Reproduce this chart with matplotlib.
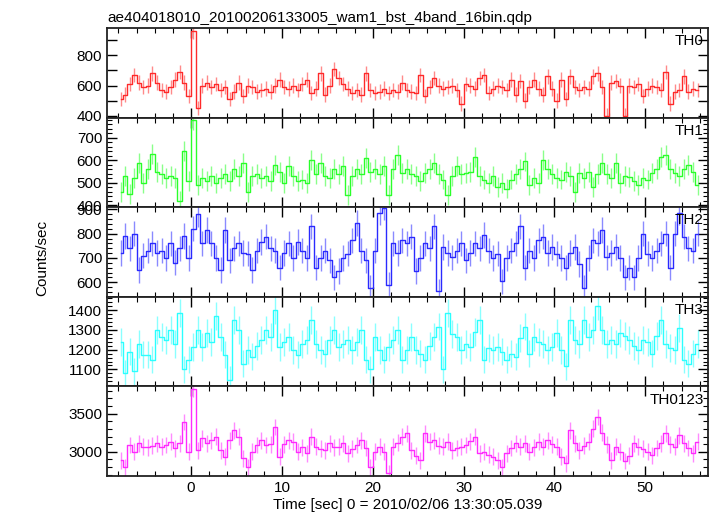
import numpy as np
import matplotlib
matplotlib.use("Agg")
import matplotlib.pyplot as plt
from matplotlib.ticker import MultipleLocator, FuncFormatter

plt.rcParams['font.family'] = ['Liberation Sans', 'DejaVu Sans']

# light curves, 0.5 s bins starting at t = -8 s (counts/sec)
th0 = [510, 540, 610, 670, 620, 590, 600, 680, 620, 570, 560, 590, 640, 690, 620, 530,
       960, 450, 600, 620, 590, 610, 570, 590, 510, 560, 620, 530, 600, 590, 560, 570,
       580, 560, 600, 640, 590, 580, 600, 570, 610, 640, 550, 580, 680, 540, 600, 710,
       650, 610, 580, 550, 570, 540, 680, 570, 550, 560, 580, 550, 570, 560, 620, 570,
       560, 550, 670, 530, 590, 650, 600, 580, 590, 600, 570, 480, 610, 600, 580, 650,
       670, 550, 580, 600, 590, 570, 640, 540, 630, 500, 590, 640, 580, 540, 660, 580,
       500, 640, 510, 660, 590, 570, 590, 580, 660, 680, 590, 400, 620, 630, 600, 400,
       600, 590, 610, 530, 580, 600, 590, 570, 690, 480, 560, 570, 660, 560, 580, 570]
th1 = [460, 530, 450, 520, 590, 500, 560, 630, 550, 540, 520, 530, 520, 420, 640, 510,
       780, 490, 520, 510, 530, 500, 520, 540, 510, 560, 530, 590, 460, 530, 540, 520,
       530, 510, 580, 550, 500, 575, 530, 510, 515, 500, 600, 540, 590, 530, 520, 560,
       540, 575, 445, 530, 560, 540, 610, 550, 560, 540, 575, 445, 560, 625, 545, 560,
       540, 530, 510, 545, 560, 590, 540, 515, 445, 530, 575, 540, 545, 550, 615, 530,
       515, 500, 530, 480, 500, 475, 515, 540, 560, 595, 490, 520, 500, 600, 560, 540,
       520, 515, 550, 530, 460, 545, 520, 550, 480, 540, 590, 540, 520, 590, 500, 530,
       525, 510, 490, 520, 515, 545, 560, 615, 625, 560, 545, 530, 560, 580, 550, 490]
th2 = [720, 790, 740, 800, 650, 710, 730, 760, 720, 730, 700, 760, 680, 740, 790, 700,
       820, 880, 760, 815, 760, 700, 650, 815, 690, 740, 760, 720, 717, 650, 730, 766,
       787, 740, 730, 660, 720, 760, 700, 766, 730, 700, 830, 660, 700, 730, 690, 620,
       646, 700, 717, 773, 844, 730, 690, 576, 730, 886, 907, 590, 760, 720, 773, 760,
       787, 646, 700, 760, 740, 830, 562, 745, 720, 703, 730, 760, 690, 720, 760, 740,
       794, 730, 700, 717, 604, 700, 730, 760, 830, 660, 730, 700, 773, 787, 720, 745,
       717, 700, 660, 720, 745, 675, 576, 700, 773, 760, 815, 703, 720, 745, 700, 620,
       660, 620, 700, 800, 717, 700, 730, 760, 800, 660, 800, 886, 787, 740, 730, 800]
th3 = [1240, 1080, 1190, 1090, 1230, 1175, 1175, 1150, 1300, 1265, 1250, 1300, 1230, 1385, 1100, 1150,
       1215, 1300, 1215, 1285, 1240, 1370, 1265, 1175, 1045, 1350, 1300, 1130, 1200, 1165, 1220, 1250,
       1300, 1265, 1400, 1215, 1240, 1265, 1200, 1175, 1230, 1250, 1350, 1230, 1200, 1180, 1250, 1300,
       1215, 1230, 1250, 1200, 1240, 1300, 1150, 1100, 1265, 1200, 1150, 1215, 1250, 1300, 1150, 1200,
       1265, 1200, 1180, 1150, 1220, 1265, 1317, 1100, 1385, 1280, 1265, 1200, 1230, 1215, 1290, 1350,
       1150, 1210, 1200, 1215, 1190, 1150, 1180, 1165, 1260, 1317, 1180, 1265, 1240, 1230, 1200, 1215,
       1285, 1200, 1115, 1350, 1250, 1230, 1350, 1265, 1300, 1420, 1300, 1230, 1250, 1230, 1285, 1270,
       1250, 1220, 1200, 1250, 1240, 1180, 1270, 1350, 1230, 1210, 1200, 1310, 1150, 1130, 1180, 1230]
th0123 = [2890, 2800, 3090, 3000, 3110, 3065, 3060, 3080, 3110, 3065, 3090, 3130, 3045, 3110, 3390, 3000,
          3826, 3020, 3175, 3110, 3150, 3195, 3020, 2935, 3150, 3280, 3200, 2915, 2800, 3000, 3090, 3150,
          3090, 3100, 3325, 2935, 3100, 3150, 3130, 3000, 3060, 2980, 3195, 3065, 3040, 3020, 3110, 3060,
          3065, 3110, 2980, 3040, 3090, 3150, 3050, 2800, 3000, 3065, 3000, 2720, 3065, 3120, 3195, 3240,
          3020, 2950, 2890, 3240, 3130, 3150, 3080, 3065, 3130, 3020, 3050, 3065, 3090, 3140, 3195, 2980,
          3000, 2960, 2935, 2890, 2800, 2980, 3050, 3110, 3065, 3110, 3000, 3060, 3130, 3065, 3150, 3100,
          3065, 2935, 2850, 3280, 3110, 3020, 3080, 3130, 3300, 3455, 3250, 3100, 2890, 3065, 3000, 2880,
          2950, 3110, 3065, 3040, 3000, 2955, 3050, 3110, 3240, 3100, 3065, 3215, 3110, 3050, 2980, 3130]

labels = ['TH0', 'TH1', 'TH2', 'TH3', 'TH0123']
series = [th0, th1, th2, th3, th0123]
errors = [48, 44, 52, 70, 110]
colors = ['#ff2a2a', '#2aff2a', '#2a2aff', '#2affff', '#ff2aff']
ylims = [(387, 982), (392, 790), (540, 909), (1014, 1468), (2684, 3855)]
major = [100, 100, 100, 100, 500]
minor = [None, 20, 20, 20, 100]
label_step = [200, 100, 100, 100, 500]

t0 = -8.0
dt = 0.5

fig = plt.figure(figsize=(7.17, 5.16), dpi=100)
left, right = 107 / 717, 708 / 717
top, bottom = 1 - 28 / 516, 1 - 476 / 516
h = (top - bottom) / 5

for i in range(5):
    ax = fig.add_axes([left, top - (i + 1) * h, right - left, h])
    v = np.array(series[i], dtype=float)
    t = t0 + dt * (np.arange(len(v)) + 0.5)
    ax.errorbar(t, v, yerr=errors[i], fmt='none', ecolor=colors[i], alpha=0.55, lw=1.0)
    ax.step(t, v, where='mid', color=colors[i], lw=1.0)
    ax.set_xlim(-9.25, 56.9)
    ax.set_ylim(*ylims[i])
    ax.xaxis.set_major_locator(MultipleLocator(10))
    ax.xaxis.set_minor_locator(MultipleLocator(2))
    ax.yaxis.set_major_locator(MultipleLocator(major[i]))
    if minor[i]:
        ax.yaxis.set_minor_locator(MultipleLocator(minor[i]))
    step = label_step[i]
    ax.yaxis.set_major_formatter(FuncFormatter(lambda y, p, s=step: '%d' % y if abs(y % s) < 1e-6 else ''))
    ax.tick_params(which='both', direction='in', top=True, right=True, labelsize=11, colors='black')
    ax.tick_params(which='major', length=7, width=1.0)
    ax.tick_params(which='minor', length=3.5, width=0.8)
    for s in ax.spines.values():
        s.set_linewidth(1.3)
        s.set_color('#222222')
    if i < 4:
        ax.tick_params(labelbottom=False)
    ax.text(0.993, 0.93, labels[i], transform=ax.transAxes, ha='right', va='top', fontsize=11)
    if i == 0:
        ax.set_title('ae404018010_20100206133005_wam1_bst_4band_16bin.qdp', loc='left', fontsize=11, pad=4)
    if i == 4:
        ax.set_xlabel('Time [sec] 0 = 2010/02/06 13:30:05.039', fontsize=11, labelpad=2)

fig.text(42 / 717, 0.5, 'Counts/sec', rotation=90, ha='center', va='center', fontsize=11)

fig.savefig('out.png', dpi=100)
